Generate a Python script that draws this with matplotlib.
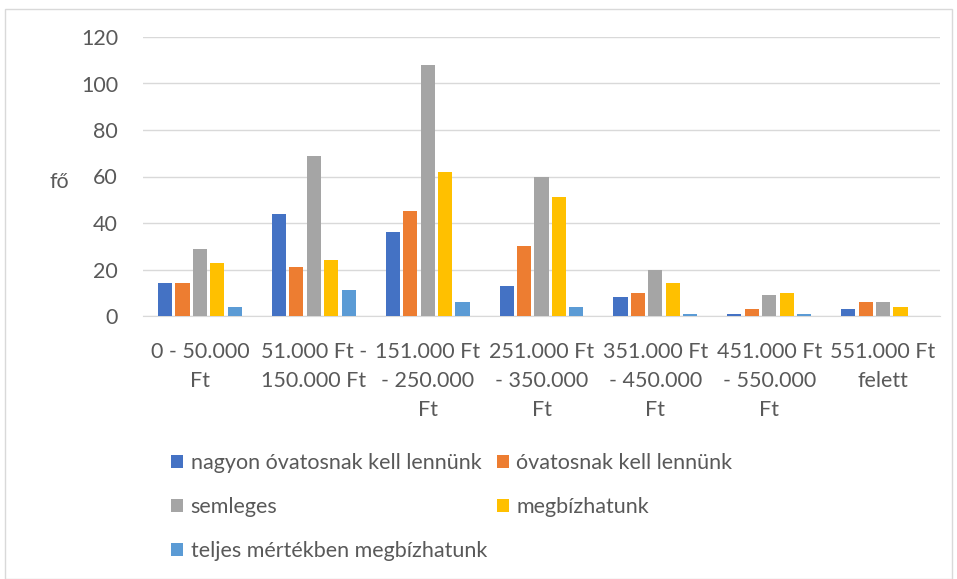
import numpy as np
import matplotlib.pyplot as plt
from matplotlib.patches import Rectangle

kategoriak = ['0 - 50.000\nFt', '51.000 Ft -\n150.000 Ft', '151.000 Ft\n- 250.000\nFt',
              '251.000 Ft\n- 350.000\nFt', '351.000 Ft\n- 450.000\nFt',
              '451.000 Ft\n- 550.000\nFt', '551.000 Ft\nfelett']
nagyon_ovatos = [14, 44, 36, 13, 8, 1, 3]
ovatos = [14, 21, 45, 30, 10, 3, 6]
semleges = [29, 69, 108, 60, 20, 9, 6]
megbizhatunk = [23, 24, 62, 51, 14, 10, 4]
teljesen = [4, 11, 6, 4, 1, 1, 0]

sorozatok = [nagyon_ovatos, ovatos, semleges, megbizhatunk, teljesen]
cimkek = ['nagyon óvatosnak kell lennünk', 'óvatosnak kell lennünk', 'semleges',
          'megbízhatunk', 'teljes mértékben megbízhatunk']
szinek = ['#4472C4', '#ED7D31', '#A5A5A5', '#FFC000', '#5B9BD5']

plt.rcParams['font.family'] = ['Lato', 'DejaVu Sans']
szurke = '#595959'
meret = 15.5

fig = plt.figure(figsize=(9.57, 5.79), dpi=100)
fig.patches.append(Rectangle((0.005, 0.0), 0.99, 0.985, transform=fig.transFigure,
                             fill=False, edgecolor='#D9D9D9', linewidth=1))
ax = fig.add_axes([143 / 957, 1 - 316 / 579, (940 - 143) / 957, (316 - 37) / 579])

x = np.arange(len(kategoriak))
lepes = 0.153
szel = 0.125
oszlopok = []
for i, (ertek, cimke, szin) in enumerate(zip(sorozatok, cimkek, szinek)):
    oszlopok.append(ax.bar(x + (i - 2) * lepes, ertek, szel, color=szin, label=cimke, zorder=3))

ax.set_xlim(-0.5, len(kategoriak) - 0.5)
ax.set_ylim(0, 120)
ax.set_yticks(range(0, 121, 20))
ax.yaxis.grid(True, color='#D9D9D9', linewidth=1, zorder=0)
for s in ['top', 'right', 'left']:
    ax.spines[s].set_visible(False)
ax.spines['bottom'].set_color('#D9D9D9')
ax.tick_params(axis='both', length=0, labelsize=meret, colors=szurke)
ax.tick_params(axis='y', pad=18)
ax.set_xticks(x)
ax.set_xticklabels(kategoriak, linespacing=1.55)
ax.tick_params(axis='x', pad=19)
ax.set_ylabel('fő', rotation=0, fontsize=meret, color=szurke, va='center', ha='center')
ax.yaxis.set_label_coords(-0.105, 0.48)

# sorrend soronként, mint az eredetin
rend = [0, 2, 4, 1, 3]
fig.legend([oszlopok[i] for i in rend], [cimkek[i] for i in rend],
           loc='upper left', bbox_to_anchor=(152 / 957, 1 - 434 / 579), ncol=2,
           frameon=False, fontsize=meret, labelcolor=szurke, handlelength=0.55,
           handleheight=0.55, handletextpad=0.35, labelspacing=1.1, columnspacing=0.45)

plt.savefig('out.png')
